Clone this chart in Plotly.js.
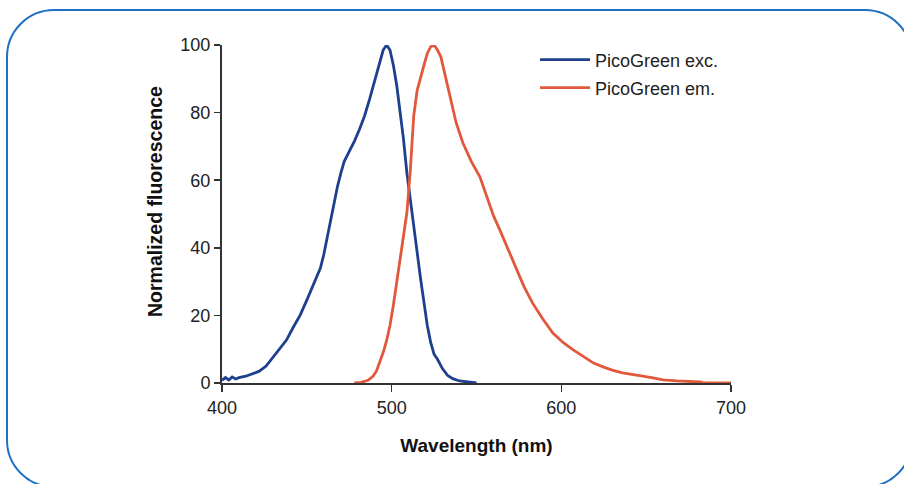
<!DOCTYPE html>
<html>
<head>
<meta charset="utf-8">
<script src="https://cdn.plot.ly/plotly-3.0.1.min.js"></script>
<style>
  html, body { margin: 0; padding: 0; background: #fff; overflow: hidden; }
  #wrap { position: relative; width: 904px; height: 484px; overflow: hidden; }
  #frame { position: absolute; left: 6px; top: 9px; width: 903px; height: 475px;
           border: 2px solid #1f6fc4; border-radius: 48px; pointer-events: none; }
  #chart { position: absolute; left: 0; top: 0; width: 904px; height: 484px; }
</style>
</head>
<body>
<div id="wrap">
  <div id="frame"></div>
  <div id="chart"></div>
</div>
<script>
// Excitation spectrum (wavelength nm, normalized fluorescence)
var excWavelength = [400,402,404,406,408,410,414,418,422,426,430,434,438,442,446,450,454,458,460,462,464,466,468,470,472,475,478,481,484,487,490,493,495,497,499,501,503,505,507,509,511,513,515,517,519,521,523,525,527,530,533,536,540,545,550];
var excValue      = [0.8,1.6,0.9,1.8,1.2,1.6,2.0,2.8,3.5,5.0,7.5,10,12.7,16.5,20,24.5,29.5,34,38,43,49,54,58,62,65.5,68.5,71.5,75,79,84,89.5,95,98.5,100,98.5,94,88,80,72,62,54,46,38,31,24,17,12,8.5,7,4.2,2.2,1.3,0.6,0.2,0];

// Emission spectrum
var emWavelength = [478,482,486,489,491,493,495,497,499,501,503,505,507,509,511,513,515,517,519,521,523,525,527,529,531,534,538,542,547,552,556,560,564,569,574,578,583,589,595,601,607,613,619,625,630,636,642,648,654,660,668,676,682,684,700];
var emValue      = [0,0.2,0.8,2,3.5,6,9,12.5,17,23,29.6,37,43.5,50.5,63,79,86.5,90.5,94,97.5,99.5,100,98.5,96.5,92,85,77,71,65.5,61,55,49.5,45,39,33.4,28.5,23.7,19,14.8,12,9.8,7.8,5.9,4.7,3.8,3,2.4,2,1.5,0.9,0.6,0.4,0.3,0,0];

var seriesNames = ["PicoGreen exc.", "PicoGreen em."];
var xTicks = [400, 500, 600, 700];
var yTicks = [0, 20, 40, 60, 80, 100];
var xTitle = "Wavelength (nm)";
var yTitle = "Normalized fluorescence";

var traces = [
  { x: excWavelength, y: excValue, type: "scatter", mode: "lines", name: seriesNames[0],
    line: { color: "#1d3f8e", width: 2.8 }, legend: "legend" },
  { x: emWavelength, y: emValue, type: "scatter", mode: "lines", name: seriesNames[1],
    line: { color: "#e2583c", width: 2.8 }, legend: "legend2" }
];

var fam = "Liberation Sans, Arial, sans-serif";
var tickFont = { family: fam, size: 18, color: "#222" };
var legendFont = { family: fam, size: 18, color: "#222" };

var layout = {
  width: 904, height: 484,
  paper_bgcolor: "rgba(0,0,0,0)", plot_bgcolor: "rgba(0,0,0,0)",
  margin: { l: 222, r: 173, t: 45, b: 101, autoexpand: false },
  showlegend: true,
  xaxis: {
    range: [400, 700], tickvals: xTicks, ticktext: xTicks.map(String),
    showgrid: false, zeroline: false, showline: true, linecolor: "#333", linewidth: 2,
    ticks: "outside", ticklen: 7, tickwidth: 1.5, tickcolor: "#333",
    tickfont: tickFont, fixedrange: true, automargin: false,
    title: { text: xTitle, font: { family: fam, size: 19, color: "#111", weight: "bold" }, standoff: 22 }
  },
  yaxis: {
    range: [0, 100], tickvals: yTicks, ticktext: yTicks.map(String),
    showgrid: false, zeroline: false, showline: true, linecolor: "#333", linewidth: 2,
    ticks: "outside", ticklen: 6, tickwidth: 1.5, tickcolor: "#333",
    tickfont: tickFont, fixedrange: true, automargin: false
  },
  annotations: [{
    text: yTitle, textangle: -90, showarrow: false,
    xref: "paper", yref: "paper", x: (155 - 222) / 509, y: (383 - 202) / 338,
    xanchor: "center", yanchor: "middle",
    font: { family: fam, size: 19.5, color: "#111", weight: "bold" }
  }],
  legend: {
    x: (535 - 222) / 509, y: (383 - 60) / 338,
    xanchor: "left", yanchor: "middle", bgcolor: "rgba(0,0,0,0)",
    font: legendFont, itemwidth: 50
  },
  legend2: {
    x: (535 - 222) / 509, y: (383 - 88) / 338,
    xanchor: "left", yanchor: "middle", bgcolor: "rgba(0,0,0,0)",
    font: legendFont, itemwidth: 50
  }
};

Plotly.newPlot("chart", traces, layout, { displayModeBar: false, staticPlot: true });
</script>
</body>
</html>
